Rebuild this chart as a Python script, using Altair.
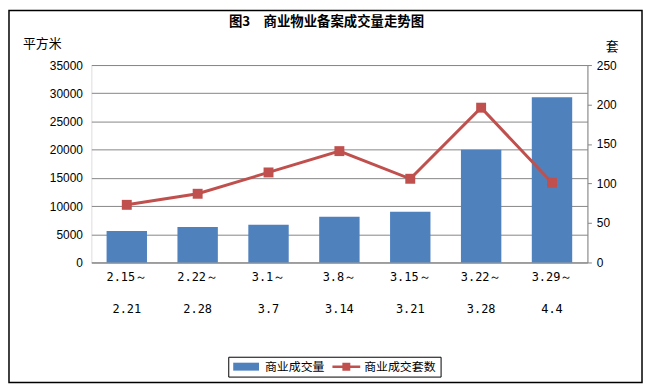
import altair as alt
import pandas as pd

# ---- data ----
period_start = ["2.15～", "2.22～", "3.1～", "3.8～", "3.15～", "3.22～", "3.29～"]
period_end = ["2.21", "2.28", "3.7", "3.14", "3.21", "3.28", "4.4"]
area_sqm = [5600, 6300, 6700, 8100, 9000, 20000, 29300]      # 商业成交量 (平方米)
deal_units = [73, 87, 114, 141, 106, 196, 101]               # 商业成交套数 (套)
left_ticks = [0, 5000, 10000, 15000, 20000, 25000, 30000, 35000]
right_ticks = [0, 50, 100, 150, 200, 250]
series_names = ["商业成交量", "商业成交套数"]
series_colors = ["#4F81BD", "#C0504D"]
chart_title = "图3　商业物业备案成交量走势图"
left_unit = "平方米"
right_unit = "套"

periods = [f"{a}\n{b}" for a, b in zip(period_start, period_end)]
df = pd.DataFrame({
    "period": periods,
    "area": area_sqm,
    "units": deal_units,
    "s_bar": series_names[0],
    "s_line": series_names[1],
})

CJK = "Noto Sans CJK SC"
GRID = "#868686"

x_enc = alt.X(
    "period:N", sort=periods, title=None,
    scale=alt.Scale(paddingInner=0.43, paddingOuter=0.215),
    axis=alt.Axis(
        labelExpr="split(datum.label, '\\n')", labelAngle=0,
        labelFont="DejaVu Sans Mono", labelFontSize=12, labelColor="#000000",
        labelBaseline="top", labelLineHeight=32, labelPadding=9,
        ticks=False, tickSize=0, domainColor=GRID, domainWidth=1, grid=False,
    ),
)

shape_expr = ("datum.value === '%s' ? 'M-1,-0.8H4.2V0.8H-1Z' : "
              "'M-1,-0.25H4.6V0.25H-1Z M1,-0.8H2.6V0.8H1Z'" % series_names[0])
fill_expr = "datum.value === '%s' ? '%s' : '%s'" % (series_names[0], series_colors[0], series_colors[1])

legend_def = alt.Legend(
    title=None, orient="none", legendX=138, legendY=294, direction="horizontal",
    strokeColor="#000000", padding=4, cornerRadius=0,
    symbolSize=100, labelOffset=21, columnPadding=6,
    symbolType={"expr": shape_expr}, symbolFillColor={"expr": fill_expr},
    symbolStrokeWidth=0, symbolOpacity=1,
    labelFont=CJK, labelFontSize=12, labelColor="#000000",
)
color_scale = alt.Scale(domain=series_names, range=series_colors)

bars = alt.Chart(df).mark_bar().encode(
    x=x_enc,
    y=alt.Y("area:Q", scale=alt.Scale(domain=[0, 35000], nice=False),
            axis=alt.Axis(
                orient="left", values=left_ticks, format="d", grid=True,
                gridColor=GRID, gridWidth=1, domain=False, ticks=False, tickSize=0,
                labelFont="Liberation Sans", labelFontSize=12, labelColor="#000000",
                labelPadding=9,
                title=left_unit, titleAngle=0, titleX=-50, titleY=-22,
                titleAlign="center", titleBaseline="middle", titleFont=CJK,
                titleFontSize=13, titleFontWeight="normal", titleColor="#000000",
            )),
    color=alt.Color("s_bar:N", scale=color_scale, legend=legend_def),
)

line = alt.Chart(df).mark_line(
    strokeWidth=3,
    point=alt.OverlayMarkDef(shape="square", size=100, filled=True, color=series_colors[1], opacity=1),
).encode(
    x=x_enc,
    y=alt.Y("units:Q", scale=alt.Scale(domain=[0, 250], nice=False),
            axis=alt.Axis(
                orient="right", values=right_ticks, format="d", grid=False,
                domain=True, domainColor=GRID, ticks=True, tickSize=4, tickColor=GRID,
                labelFont="Liberation Sans", labelFontSize=12, labelColor="#000000",
                labelPadding=5,
                title=right_unit, titleAngle=0, titleX=24.5, titleY=-19,
                titleAlign="center", titleBaseline="middle", titleFont=CJK,
                titleFontSize=13, titleFontWeight="normal", titleColor="#000000",
            )),
    color=alt.Color("s_line:N", scale=color_scale, legend=legend_def),
)

frame = alt.Chart(pd.DataFrame({"f": [0]})).mark_rect(
    fillOpacity=0, stroke="#000000", strokeWidth=1.5, clip=False
).encode(
    x=alt.value(-83), x2=alt.value(555), y=alt.value(-55), y2=alt.value(320)
)

chart = alt.layer(bars, line, frame).resolve_scale(y="independent").properties(
    width=500, height=199,
    autosize=alt.AutoSizeParams(type="none"),
    padding={"left": 84, "top": 56, "right": 56, "bottom": 122},
    title=alt.TitleParams(
        chart_title, font=CJK, fontSize=13.5, fontWeight="bold", color="#000000",
        anchor="middle", frame="group", dx=-13, offset=0, dy=25.5, baseline="middle",
    ),
).configure_view(stroke=None).configure(background="#ffffff")

chart.save("out.html", embed_options={"renderer": "svg", "actions": False})
